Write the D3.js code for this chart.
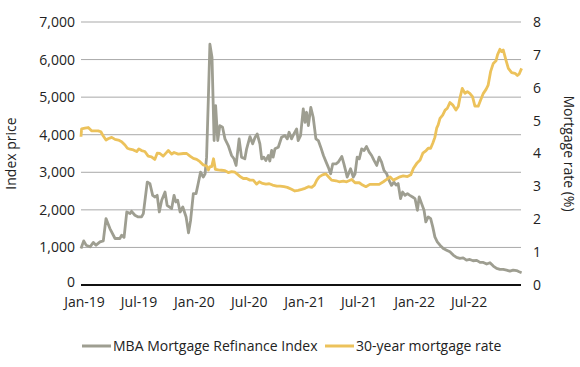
<!DOCTYPE html>
<html><head><meta charset="utf-8">
<script src="https://cdn.jsdelivr.net/npm/d3@7"></script>
<style>
body{margin:0;background:#fff;}
text{font-family:"Open Sans",sans-serif;fill:#222;}
</style></head>
<body><svg id="c" width="580" height="367"></svg>
<script>
const refiDates = ["2019-01-01","2019-01-10","2019-01-18","2019-01-31","2019-02-11","2019-02-20","2019-03-05","2019-03-16","2019-03-25","2019-04-07","2019-04-24","2019-05-10","2019-05-16","2019-05-24","2019-06-02","2019-06-13","2019-06-18","2019-06-29","2019-07-10","2019-07-21","2019-07-27","2019-08-09","2019-08-18","2019-08-27","2019-09-04","2019-09-11","2019-09-18","2019-09-26","2019-10-07","2019-10-14","2019-10-21","2019-10-29","2019-11-06","2019-11-12","2019-11-18","2019-11-26","2019-12-05","2019-12-16","2019-12-24","2019-12-31","2020-01-09","2020-01-18","2020-01-25","2020-02-02","2020-02-11","2020-02-17","2020-02-22","2020-02-28","2020-03-04","2020-03-11","2020-03-18","2020-03-23","2020-03-30","2020-04-06","2020-04-15","2020-04-23","2020-05-04","2020-05-15","2020-05-23","2020-05-30","2020-06-09","2020-06-17","2020-06-28","2020-07-04","2020-07-15","2020-07-24","2020-08-01","2020-08-08","2020-08-17","2020-08-23","2020-08-30","2020-09-06","2020-09-14","2020-09-19","2020-09-25","2020-09-30","2020-10-06","2020-10-17","2020-10-28","2020-11-08","2020-11-16","2020-11-22","2020-11-30","2020-12-08","2020-12-17","2020-12-22","2020-12-30","2021-01-08","2021-01-14","2021-01-19","2021-01-25","2021-02-02","2021-02-10","2021-02-19","2021-02-27","2021-03-07","2021-03-16","2021-03-25","2021-04-01","2021-04-09","2021-04-16","2021-04-27","2021-05-04","2021-05-16","2021-05-23","2021-06-03","2021-06-14","2021-06-23","2021-06-29","2021-07-06","2021-07-13","2021-07-21","2021-07-29","2021-08-06","2021-08-15","2021-08-23","2021-08-31","2021-09-09","2021-09-17","2021-09-25","2021-10-03","2021-10-12","2021-10-20","2021-10-28","2021-11-05","2021-11-12","2021-11-19","2021-11-27","2021-12-04","2021-12-12","2021-12-20","2021-12-28","2022-01-06","2022-01-14","2022-01-22","2022-01-28","2022-02-05","2022-02-13","2022-02-19","2022-02-27","2022-03-07","2022-03-14","2022-03-21","2022-03-29","2022-04-07","2022-04-18","2022-04-29","2022-05-10","2022-05-21","2022-06-01","2022-06-12","2022-06-23","2022-07-04","2022-07-15","2022-07-26","2022-08-07","2022-08-18","2022-08-29","2022-09-09","2022-09-20","2022-10-01","2022-10-12","2022-10-23","2022-11-03","2022-11-14","2022-11-25","2022-12-06","2022-12-17","2022-12-26","2023-01-03"];
const refiValues = [973,1175,1060,1016,1132,1060,1148,1175,1768,1503,1238,1238,1326,1268,1944,1900,1962,1856,1811,1811,1900,2740,2696,2387,2342,2387,1944,2254,2474,2121,2077,2033,2387,2210,2254,1944,2077,1811,1388,1724,2431,2431,2696,3005,2872,2960,3403,4994,6410,6055,3845,4773,3845,4243,4198,3890,3712,3447,3359,3182,3890,3403,3359,3624,3951,3757,3935,4022,3757,3359,3403,3315,3447,3300,3580,3403,3624,3668,3933,3978,3890,4066,3890,4022,4155,3845,3978,4685,4332,4597,4243,4729,4464,3890,3845,3668,3447,3270,3137,2960,3226,3226,3270,3421,3226,2872,3094,2872,2960,3403,3359,3624,3580,3686,3535,3447,3315,3182,3403,3270,3049,2960,2784,2652,2740,2660,2700,2299,2474,2387,2431,2387,2342,2300,1989,2342,2166,1989,1679,1811,1768,1547,1281,1148,1060,973,928,884,796,734,708,720,663,680,645,655,601,600,557,592,504,442,416,416,398,371,398,385,353,327];

const rateDates = ["2019-01-01","2019-01-03","2019-01-14","2019-01-25","2019-02-05","2019-02-16","2019-02-27","2019-03-08","2019-03-16","2019-03-25","2019-04-01","2019-04-13","2019-04-24","2019-05-05","2019-05-16","2019-05-27","2019-06-04","2019-06-13","2019-06-24","2019-07-05","2019-07-12","2019-07-21","2019-08-01","2019-08-12","2019-08-23","2019-09-03","2019-09-11","2019-09-20","2019-10-01","2019-10-10","2019-10-18","2019-10-29","2019-11-06","2019-11-20","2019-12-07","2019-12-18","2019-12-29","2020-01-09","2020-01-20","2020-01-31","2020-02-11","2020-02-22","2020-02-28","2020-03-04","2020-03-10","2020-03-16","2020-03-22","2020-04-01","2020-04-12","2020-04-23","2020-05-04","2020-05-15","2020-05-26","2020-06-06","2020-06-12","2020-06-23","2020-07-04","2020-07-15","2020-07-26","2020-08-06","2020-08-15","2020-08-26","2020-09-06","2020-09-17","2020-09-28","2020-10-12","2020-10-23","2020-11-05","2020-11-16","2020-11-30","2020-12-11","2020-12-22","2021-01-03","2021-01-14","2021-01-25","2021-02-05","2021-02-14","2021-02-22","2021-03-02","2021-03-13","2021-03-24","2021-04-01","2021-04-12","2021-04-27","2021-05-07","2021-05-21","2021-06-01","2021-06-18","2021-06-29","2021-07-13","2021-07-24","2021-08-04","2021-08-17","2021-09-03","2021-09-17","2021-10-01","2021-10-12","2021-10-23","2021-11-03","2021-11-14","2021-11-25","2021-12-06","2021-12-20","2021-12-31","2022-01-09","2022-01-20","2022-01-31","2022-02-09","2022-02-20","2022-02-27","2022-03-07","2022-03-14","2022-03-21","2022-03-27","2022-04-01","2022-04-07","2022-04-16","2022-04-24","2022-05-01","2022-05-10","2022-05-19","2022-05-30","2022-06-07","2022-06-12","2022-06-20","2022-06-29","2022-07-07","2022-07-15","2022-07-24","2022-08-01","2022-08-12","2022-08-20","2022-08-29","2022-09-07","2022-09-14","2022-09-22","2022-10-01","2022-10-10","2022-10-15","2022-10-23","2022-10-29","2022-11-03","2022-11-12","2022-11-20","2022-12-01","2022-12-12","2022-12-20","2022-12-26","2023-01-03"];
const rateValues = [4.51,4.75,4.77,4.79,4.69,4.69,4.69,4.66,4.53,4.41,4.45,4.49,4.43,4.41,4.36,4.26,4.16,4.13,4.11,4.06,4.14,4.09,4.06,3.92,3.90,3.82,4.01,4.00,3.92,4.01,4.09,3.98,4.03,3.98,4.00,4.00,3.92,3.85,3.82,3.75,3.65,3.62,3.50,3.60,3.60,3.84,3.52,3.50,3.49,3.48,3.42,3.45,3.43,3.35,3.30,3.24,3.24,3.19,3.19,3.07,3.14,3.09,3.07,3.08,3.04,3.01,3.01,2.99,2.97,2.91,2.86,2.88,2.91,2.94,2.99,2.97,3.04,3.19,3.29,3.35,3.38,3.30,3.19,3.17,3.14,3.16,3.14,3.21,3.11,3.11,3.04,2.99,3.06,3.06,3.06,3.14,3.21,3.29,3.19,3.24,3.29,3.32,3.30,3.35,3.55,3.70,3.80,4.01,4.09,4.16,4.16,4.31,4.49,4.77,4.87,5.07,5.17,5.32,5.37,5.55,5.48,5.32,5.44,5.68,5.98,5.83,5.88,5.83,5.73,5.44,5.44,5.63,5.83,5.95,6.08,6.49,6.74,6.82,7.00,7.17,7.10,7.15,6.84,6.59,6.46,6.44,6.37,6.42,6.59];

const leftTicks = [0,1000,2000,3000,4000,5000,6000,7000];
const rightTicks = [0,1,2,3,4,5,6,7,8];
const xTickLabels = ["Jan-19","Jul-19","Jan-20","Jul-20","Jan-21","Jul-21","Jan-22","Jul-22"];
const seriesNames = ["MBA Mortgage Refinance Index","30-year mortgage rate"];
const seriesColors = ["#9e9e91","#ecc25b"];

const FS = "14px";
const parse = d3.timeParse("%Y-%m-%d");
const svg = d3.select("#c");
const L = 81, R = 521, T = 22, B = 285;

const x = d3.scaleTime().domain([parse("2019-01-01"), parse("2023-01-01")]).range([L, R]);
const yL = d3.scaleLinear().domain([0, 7000]).range([B, T]);
const yR = d3.scaleLinear().domain([0, 8]).range([B, T]);

// gridlines
svg.append("g").selectAll("line").data(leftTicks.filter(d => d > 0)).join("line")
  .attr("x1", L).attr("x2", R).attr("y1", d => yL(d)).attr("y2", d => yL(d))
  .attr("stroke", "#a9a9a9").attr("stroke-width", 1);

// left axis
const axL = d3.axisLeft(yL).tickValues(leftTicks).tickSize(0).tickPadding(6).tickFormat(d3.format(","));
const gL = svg.append("g").attr("transform", `translate(${L},0)`).call(axL);
gL.select(".domain").remove();
gL.selectAll("text").style("font-size", FS).style("font-family", "Open Sans").attr("fill", "#222");
gL.selectAll(".tick").filter(d => d === 0).select("text").attr("dy", "0.12em");

// right axis
const axR = d3.axisRight(yR).tickValues(rightTicks).tickSize(0).tickPadding(12).tickFormat(d3.format("d"));
const gR = svg.append("g").attr("transform", `translate(${R},0)`).call(axR);
gR.select(".domain").remove();
gR.selectAll("text").style("font-size", FS).style("font-family", "Open Sans").attr("fill", "#222");

// x axis labels
const xTickDates = xTickLabels.map(s => d3.timeParse("%b-%y")(s));
const axX = d3.axisBottom(x).tickValues(xTickDates).tickSize(0).tickPadding(12).tickFormat(d3.timeFormat("%b-%y"));
const gX = svg.append("g").attr("transform", `translate(3,${B})`).call(axX);
gX.select(".domain").remove();
gX.selectAll("text").style("font-size", FS).style("font-family", "Open Sans").attr("fill", "#222");

// axis titles
svg.append("text").attr("transform", `translate(16,${(T+B)/2}) rotate(-90)`)
  .attr("text-anchor", "middle").style("font-size", FS).text("Index price");
svg.append("text").attr("transform", `translate(564,${(T+B)/2}) rotate(90)`)
  .attr("text-anchor", "middle").style("font-size", FS).text("Mortgage rate (%)");

// lines
const refi = refiDates.map((d, i) => ({ d: parse(d), v: refiValues[i] }));
const rate = rateDates.map((d, i) => ({ d: parse(d), v: rateValues[i] }));
svg.append("path").datum(refi)
  .attr("d", d3.line().x(p => x(p.d)).y(p => yL(p.v)))
  .attr("fill", "none").attr("stroke", seriesColors[0]).attr("stroke-width", 2.8).attr("stroke-linejoin", "round");
svg.append("path").datum(rate)
  .attr("d", d3.line().x(p => x(p.d)).y(p => yR(p.v)))
  .attr("fill", "none").attr("stroke", seriesColors[1]).attr("stroke-width", 2.8).attr("stroke-linejoin", "round");

// zero axis line
svg.append("line").attr("x1", L).attr("x2", R).attr("y1", B).attr("y2", B)
  .attr("stroke", "#111").attr("stroke-width", 1.8);

// legend
const legX = [82, 325];
const lg = svg.append("g");
seriesNames.forEach((n, i) => {
  lg.append("line").attr("x1", legX[i]).attr("x2", legX[i] + 29).attr("y1", 346).attr("y2", 346)
    .attr("stroke", seriesColors[i]).attr("stroke-width", 3);
  lg.append("text").attr("x", legX[i] + 31).attr("y", 351).style("font-size", FS).text(n);
});
</script></body></html>
